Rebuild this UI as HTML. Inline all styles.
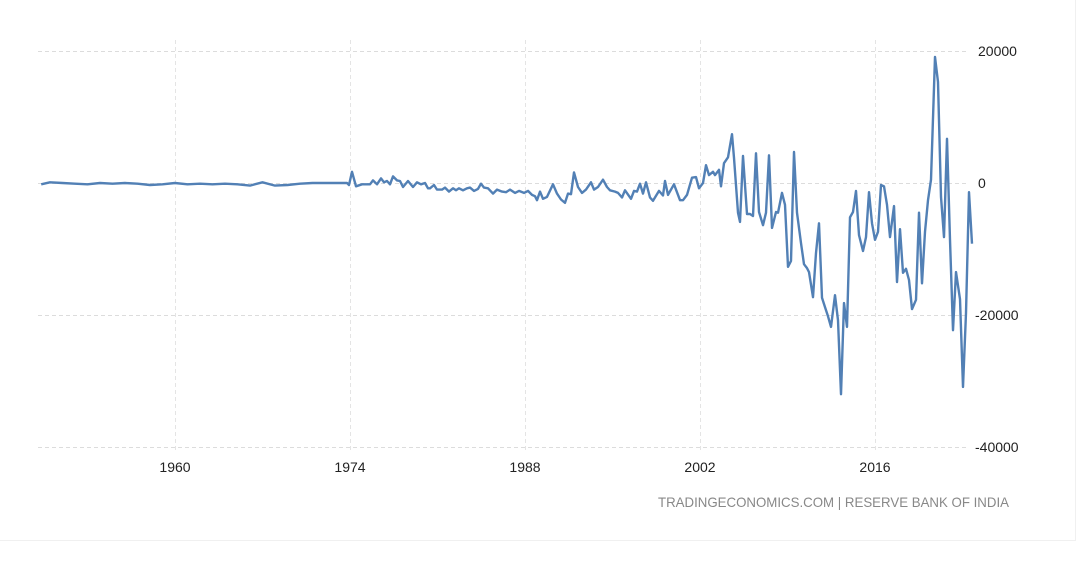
<!DOCTYPE html>
<html><head><meta charset="utf-8"><style>
body{margin:0;background:#fff;font-family:"Liberation Sans",sans-serif;}
svg{display:block}
</style></head><body>
<svg id="chart" width="1084" height="562" xmlns="http://www.w3.org/2000/svg">
<line x1="1075.5" y1="0" x2="1075.5" y2="541" stroke="#f0f0f0"/>
<line x1="0" y1="540.5" x2="1076" y2="540.5" stroke="#f0f0f0"/>
<g id="grid"></g>
<g id="axes"></g>
<path id="line" fill="none" stroke="#5280b5" stroke-width="2.4" stroke-linejoin="round"/>
<text x="658" y="507" textLength="351" lengthAdjust="spacingAndGlyphs" font-size="14" fill="#888">TRADINGECONOMICS.COM | RESERVE BANK OF INDIA</text>
</svg>
<script>
const years=[1949.3,1950,1951,1952,1953,1954,1955,1956,1957,1958,1959,1960,1961,1962,1963,1964,1965,1966,1967,1968,1969,1970,1971,1972.4,
1973.76,1973.92,1974.16,1974.48,1974.96,1975.6,1975.84,1976.16,1976.48,1976.72,1976.96,1977.2,1977.44,1977.76,1978.0,1978.24,1978.64,1979.04,1979.36,1979.68,1980.0,1980.24,1980.4,1980.72,1980.96,1981.36,1981.6,1981.92,1982.24,1982.48,1982.72,1983.04,1983.36,1983.6,1983.92,1984.24,1984.48,1984.72,1985.04,1985.44,1985.76,1986.16,1986.48,1986.8,1987.2,1987.52,1987.92,1988.24,1988.56,1988.8,1988.96,1989.2,1989.44,1989.76,1990.24,1990.56,1990.88,1991.2,1991.44,1991.68,1991.92,1992.24,1992.56,1992.88,1993.28,1993.52,1993.84,1994.24,1994.56,1994.8,1995.2,1995.44,1995.76,1996.0,1996.48,1996.72,1996.96,1997.2,1997.44,1997.68,1998.0,1998.24,1998.72,1999.04,1999.2,1999.44,1999.92,
2000.4,2000.64,2000.96,2001.36,2001.68,2001.92,2002.24,2002.48,2002.72,2003.04,2003.2,2003.52,2003.68,2003.92,2004.24,2004.56,2004.72,2005.04,2005.2,2005.44,2005.76,2006.0,2006.24,2006.48,2006.72,2007.04,2007.28,2007.52,2007.76,2008.08,2008.24,2008.56,2008.8,2009.04,2009.28,2009.52,2009.76,2010.08,2010.32,2010.56,2010.72,2011.04,2011.28,2011.52,2011.76,2012.0,2012.24,2012.48,2012.8,2013.04,2013.28,2013.52,2013.76,2014.0,2014.24,2014.48,2014.72,2015.04,2015.28,2015.52,2015.76,2016.0,2016.24,2016.48,2016.72,2016.96,2017.2,2017.52,2017.76,2018.0,2018.24,2018.48,2018.72,2018.96,2019.28,2019.52,2019.76,2020.0,2020.24,2020.48,2020.8,2021.04,2021.28,2021.52,2021.76,2022.0,2022.24,2022.48,2022.8,2023.04,2023.28,2023.52,2023.76];
const values=[-200,100,0,-100,-200,0,-100,0,-100,-300,-200,0,-200,-100,-200,-100,-200,-400,100,-400,-300,-100,0,0,
0,-300,1700,-500,-200,-200,400,-200,700,100,300,-200,1000,400,300,-600,300,-600,100,-200,0,-800,-800,-300,-1000,-1000,-700,-1300,-800,-1100,-800,-1100,-800,-700,-1200,-900,-100,-700,-800,-1600,-1000,-1300,-1400,-1000,-1500,-1200,-1500,-1200,-1800,-2000,-2600,-1300,-2400,-2100,-200,-1600,-2500,-3000,-1600,-1700,1600,-600,-1500,-1000,100,-1000,-600,500,-600,-1100,-1300,-1500,-2200,-1100,-2400,-1200,-1300,-100,-1600,100,-2200,-2700,-1200,-1900,300,-1800,-200,-2600,
-2600,-1800,800,900,-800,0,2700,1200,1700,1200,2000,-500,3000,3900,7400,3800,-4500,-5900,4100,-4700,-4700,-5000,4500,-4400,-6400,-4500,4200,-6800,-4400,-4500,-1500,-3300,-12700,-11800,4700,-4500,-9100,-12300,-12900,-13500,-17300,-10600,-6100,-17400,-18800,-20200,-21800,-17000,-20800,-32000,-18200,-21800,-5200,-4400,-1200,-7900,-10300,-8200,-1400,-6100,-8600,-7400,-300,-500,-3300,-8200,-3500,-15000,-7000,-13600,-13000,-14700,-19100,-17700,-4500,-15200,-7400,-2600,500,19100,15300,-2100,-8200,6700,-8600,-22300,-13500,-17600,-30900,-19700,-1400,-9200,-8400];
const yTicks=[20000,0,-20000,-40000];
const yTickLabels=["20000","0","-20000","-40000"];
const xTicks=[1960,1974,1988,2002,2016];
const xTickLabels=["1960","1974","1988","2002","2016"];
const X=y=>175+(y-1960)*12.5;
const Y=v=>183-v*132/20000;
const NS="http://www.w3.org/2000/svg";
const grid=document.getElementById('grid'),axes=document.getElementById('axes');
yTicks.forEach((t,i)=>{
 const l=document.createElementNS(NS,'line');
 
 
 l.setAttribute('x1',38);l.setAttribute('x2',966);l.setAttribute('y1',Y(t)+0.5);l.setAttribute('y2',Y(t)+0.5);
 l.setAttribute('stroke','#dcdcdc');l.setAttribute('stroke-dasharray','4,3');grid.appendChild(l);
 const tx=document.createElementNS(NS,'text');
 
 
 tx.setAttribute('x',t<0?975:978);tx.setAttribute('y',Y(t)+5);
 tx.setAttribute('font-size','14');tx.setAttribute('fill','#222');tx.textContent=yTickLabels[i];axes.appendChild(tx);
});
xTicks.forEach((t,i)=>{
 const l=document.createElementNS(NS,'line');
 
 
 l.setAttribute('x1',X(t)+0.5);l.setAttribute('x2',X(t)+0.5);l.setAttribute('y1',40);l.setAttribute('y2',452);
 l.setAttribute('stroke','#e4e4e4');l.setAttribute('stroke-dasharray','4,3');grid.appendChild(l);
 const tx=document.createElementNS(NS,'text');
 
 
 tx.setAttribute('x',X(t));tx.setAttribute('y',472);tx.setAttribute('text-anchor','middle');
 tx.setAttribute('font-size','14');tx.setAttribute('fill','#222');tx.textContent=xTickLabels[i];axes.appendChild(tx);
});
document.getElementById('line').setAttribute('d',years.map((y,i)=>(i?'L':'M')+X(y).toFixed(1)+','+Y(values[i]).toFixed(1)).join(''));
</script>
</body></html>
